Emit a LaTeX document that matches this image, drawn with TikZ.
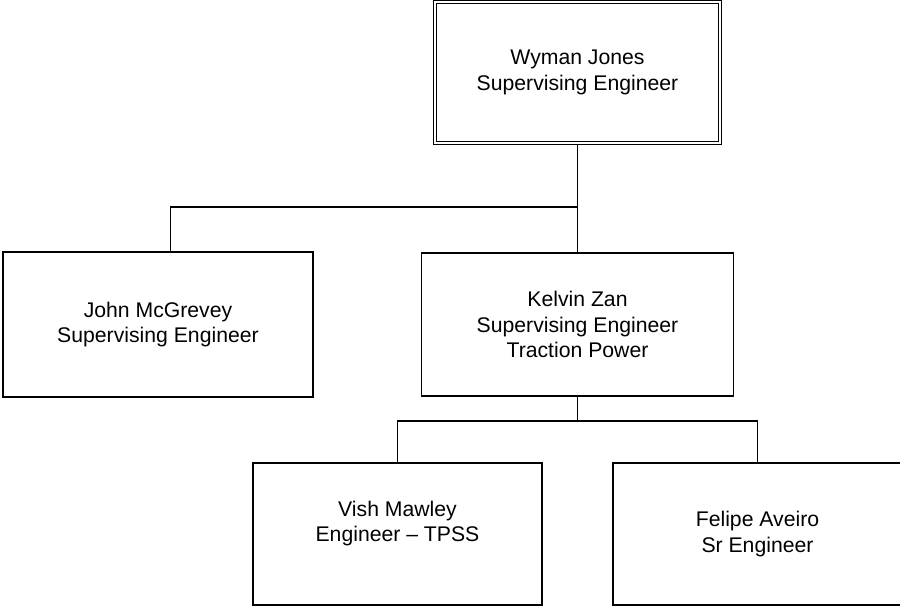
\documentclass[tikz,border=0pt]{standalone}
\usepackage{fontspec}
\setmainfont{Liberation Sans}
\begin{document}
\begin{tikzpicture}[x=1pt,y=-1pt,
  box/.style={draw=black, line width=1.25pt, fill=white, align=center, inner sep=0pt,
    font=\fontsize{21.2}{25.5}\selectfont},
  conn/.style={draw=black, line width=1.25pt}]
\useasboundingbox (0,0) rectangle (900,606);
\clip (0,0) rectangle (900,606);
\node[box, double, double distance=2.4pt, line width=1.05pt,
  minimum width=285pt, minimum height=141pt] (top) at (577.5,72.5) {Wyman Jones\\Supervising Engineer};
\node[box, minimum width=310pt, minimum height=145pt] (left) at (158,324.5) {John McGrevey\\Supervising Engineer};
\node[box, minimum width=312pt, minimum height=143pt] (mid) at (577.5,324.5) {Kelvin Zan\\Supervising Engineer\\Traction Power};
\node[box, minimum width=289pt, minimum height=142pt] (bl) at (397.5,534) {Vish Mawley\\Engineer – TPSS\\\mbox{}};
\node[box, minimum width=289pt, minimum height=142pt] (br) at (757.5,534) {Felipe Aveiro\\Sr Engineer};
\coordinate (busA) at (577.5,207);
\coordinate (busB) at (577.5,421);
\coordinate (leftin) at (170.5,252);
\draw[conn] (top.south) -- (mid.north);
\draw[conn] (leftin) |- (busA);
\draw[conn] (mid.south) -- (busB);
\draw[conn] (bl.north) |- (busB) -| (br.north);
\end{tikzpicture}
\end{document}
